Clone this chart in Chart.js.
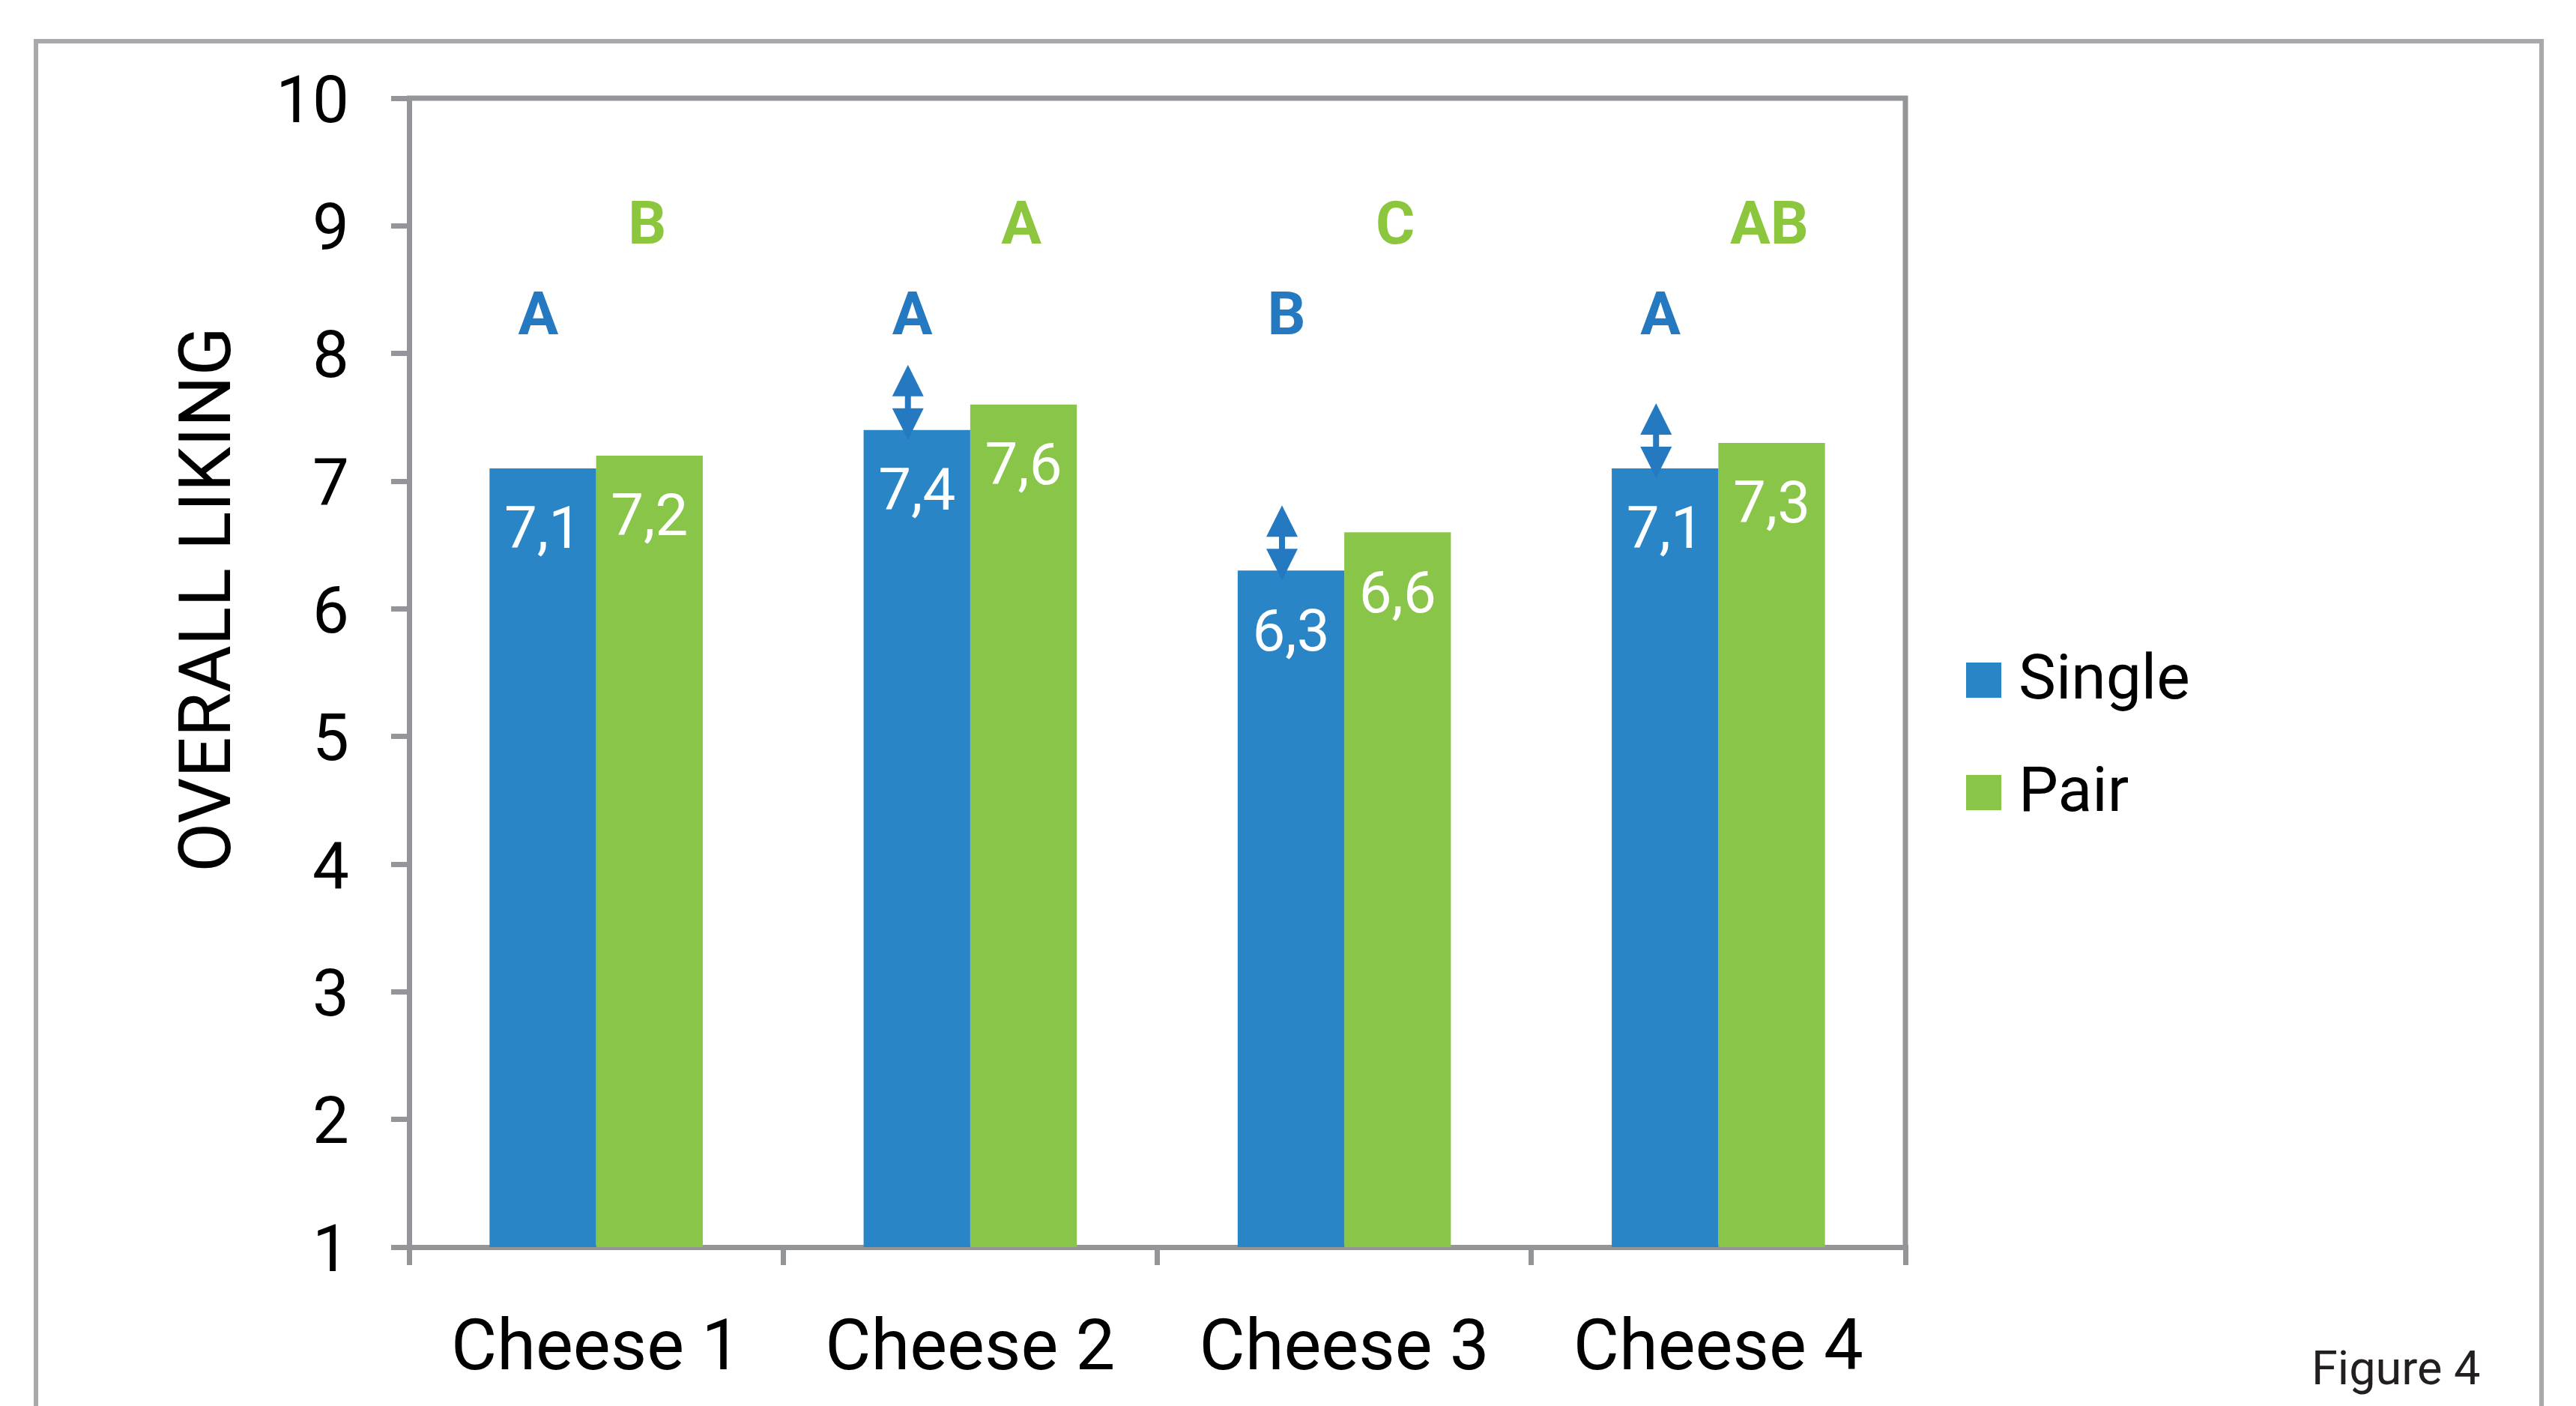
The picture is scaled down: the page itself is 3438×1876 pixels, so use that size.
<!DOCTYPE html>
<html>
<head>
<meta charset="utf-8">
<script src="https://cdn.jsdelivr.net/npm/chart.js@4/dist/chart.umd.min.js"></script>
<style>
  html, body { margin: 0; padding: 0; background: #fff; }
</style>
</head>
<body>
<canvas id="likingChart" width="3438" height="1876"></canvas>
<script>
const cheeseLabels = ['Cheese 1', 'Cheese 2', 'Cheese 3', 'Cheese 4'];
const singleScores = [7.1, 7.4, 6.3, 7.1];
const pairScores = [7.2, 7.6, 6.6, 7.3];
// significance groups printed above each bar
const singleGroups = ['A', 'A', 'B', 'A'];
const pairGroups = ['B', 'A', 'C', 'AB'];
// double arrow drawn over the Single bar
const singleArrow = [false, true, true, true];

const BLUE = '#2985c6';
const GREEN = '#88c548';
const BLUE_TEXT = '#2479c1';
const GREEN_TEXT = '#8cc63f';
const AXIS = '#939598';
const FRAME = '#a7a9ac';
const FONT = 'Roboto, "DejaVu Sans", sans-serif';

const fmt = v => v.toFixed(1).replace('.', ',');

const decor = {
    id: 'decor',
    beforeDraw(chart) {
        const c = chart.ctx;
        c.save();
        c.fillStyle = '#fff';
        c.fillRect(0, 0, chart.width, chart.height);
        // outer figure frame, open at the bottom
        c.strokeStyle = FRAME;
        c.lineWidth = 6;
        c.beginPath();
        c.moveTo(48, chart.height + 10);
        c.lineTo(48, 55);
        c.lineTo(3392, 55);
        c.lineTo(3392, chart.height + 10);
        c.stroke();
        c.restore();
    },
    afterDatasetsDraw(chart) {
        const c = chart.ctx;
        const y = chart.scales.y;
        const area = chart.chartArea;
        c.save();

        // top and right edges of the plot box
        c.strokeStyle = AXIS;
        c.lineWidth = 7;
        c.beginPath();
        c.moveTo(area.left - 3, area.top);
        c.lineTo(area.right, area.top);
        c.lineTo(area.right, area.bottom);
        c.stroke();

        const singleBars = chart.getDatasetMeta(0).data;
        const pairBars = chart.getDatasetMeta(1).data;

        // arrows on the Single bars
        c.fillStyle = BLUE_TEXT;
        singleBars.forEach((bar, i) => {
            if (!singleArrow[i]) return;
            const cx = bar.x - 12;
            const bottom = bar.y + 13;
            const h = 42, w = 21, shaft = 16;
            const top = bottom - (h * 2 + shaft);
            c.beginPath();
            c.moveTo(cx, top);
            c.lineTo(cx + w, top + h);
            c.lineTo(cx - w, top + h);
            c.closePath();
            c.fill();
            c.beginPath();
            c.moveTo(cx, bottom);
            c.lineTo(cx + w, bottom - h);
            c.lineTo(cx - w, bottom - h);
            c.closePath();
            c.fill();
            c.fillRect(cx - 4, top + h - 1, 8, shaft + 2);
        });

        // values inside the bars
        c.fillStyle = '#fff';
        c.font = '78px ' + FONT;
        c.textAlign = 'center';
        c.textBaseline = 'middle';
        singleBars.forEach((bar, i) => c.fillText(fmt(singleScores[i]), bar.x, bar.y + 87));
        pairBars.forEach((bar, i) => c.fillText(fmt(pairScores[i]), bar.x, bar.y + 87));

        // group letters
        c.font = 'bold 80px ' + FONT;
        c.fillStyle = BLUE_TEXT;
        singleBars.forEach((bar, i) => c.fillText(singleGroups[i], bar.x - 6, y.getPixelForValue(8.27)));
        c.fillStyle = GREEN_TEXT;
        pairBars.forEach((bar, i) => c.fillText(pairGroups[i], bar.x - 3, y.getPixelForValue(8.98)));

        // legend
        c.font = '84px ' + FONT;
        c.textAlign = 'left';
        c.textBaseline = 'alphabetic';
        chart.data.datasets.forEach((ds, i) => {
            const top = 884 + i * 150;
            c.fillStyle = ds.backgroundColor;
            c.fillRect(2624, top, 47, 47);
            c.fillStyle = '#000';
            c.fillText(ds.label, 2694, top + 48);
        });

        // axis title
        c.save();
        c.translate(307, 800);
        c.rotate(-Math.PI / 2);
        c.textAlign = 'center';
        c.font = '96px ' + FONT;
        c.fillStyle = '#000';
        c.fillText('OVERALL LIKING', 0, 0);
        c.restore();

        c.font = '63px ' + FONT;
        c.fillStyle = '#231f20';
        c.fillText('Figure 4', 3085, 1847);
        c.restore();
    }
};

const ctx = document.getElementById('likingChart').getContext('2d');
const likingChart = new Chart(ctx, {
    type: 'bar',
    data: {
        labels: cheeseLabels,
        datasets: [
            { label: 'Single', data: singleScores, backgroundColor: BLUE },
            { label: 'Pair', data: pairScores, backgroundColor: GREEN }
        ]
    },
    options: {
        responsive: false,
        animation: false,
        layout: { padding: { top: 131, right: 895, bottom: 0, left: 0 } },
        datasets: { bar: { categoryPercentage: 0.57, barPercentage: 1 } },
        plugins: {
            legend: { display: false },
            tooltip: { enabled: false }
        },
        scales: {
            x: {
                grid: { offset: true, drawOnChartArea: false, tickLength: 24, color: AXIS, lineWidth: 7 },
                border: { color: AXIS, width: 7 },
                ticks: { color: '#000', font: { family: FONT, size: 94 }, padding: 59 },
                afterFit: s => { s.height = 212; }
            },
            y: {
                min: 1,
                max: 10,
                grid: { drawOnChartArea: false, tickLength: 24, color: AXIS, lineWidth: 7 },
                border: { color: AXIS, width: 7 },
                ticks: { stepSize: 1, color: '#000', font: { family: FONT, size: 87 }, padding: 56, labelOffset: 10 },
                afterFit: s => { s.width = 546; }
            }
        }
    },
    plugins: [decor]
});
</script>
</body>
</html>
